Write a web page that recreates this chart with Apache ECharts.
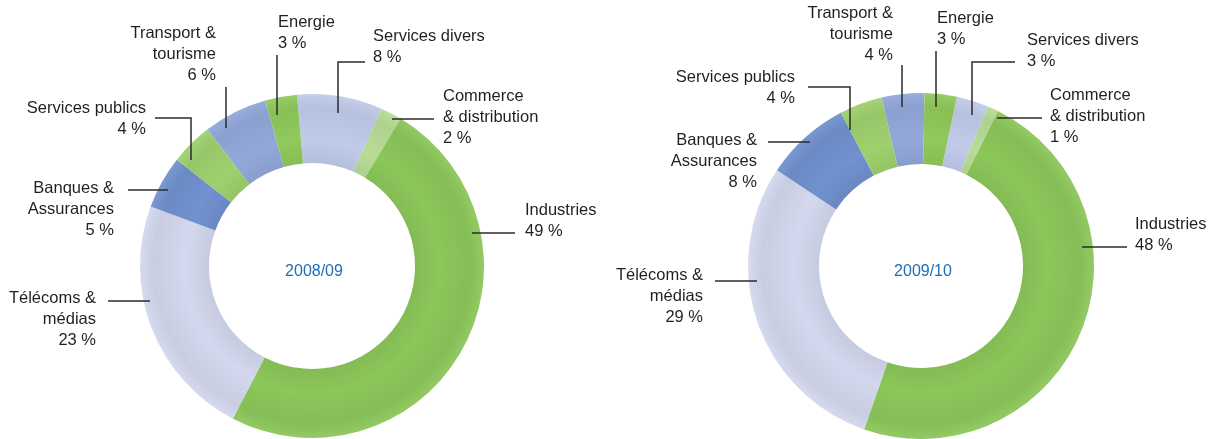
<!DOCTYPE html>
<html lang="fr">
<head>
<meta charset="utf-8">
<title>Répartition par secteur</title>
<script src="https://cdn.jsdelivr.net/npm/echarts@6/dist/echarts.min.js"></script>
<style>
  html, body { margin: 0; padding: 0; background: #fff; }
  #chart { width: 1209px; height: 439px; }
</style>
</head>
<body>
<div id="chart"></div>
<script>
// Sectors, listed clockwise from the start angle of each ring
const sectors = [
  'Services divers',
  'Commerce\n& distribution',
  'Industries',
  'Télécoms &\nmédias',
  'Banques &\nAssurances',
  'Services publics',
  'Transport &\ntourisme',
  'Energie'
];
const years = ['2008/09', '2009/10'];
const shares2008 = [8, 2, 49, 23, 5, 4, 6, 3];
const shares2009 = [3, 1, 48, 29, 8, 4, 4, 3];

// Fill colour of each sector
const sectorColors = ['#c0cbea', '#b8dc96', '#8cc75a', '#d3d8ee', '#7191cf', '#9fd06e', '#93a8da', '#90c95c'];

// Ring geometry (pixels)
const rings = [
  { cx: 312, cy: 266, r0: 103, r1: 172, start: 95 },
  { cx: 921, cy: 266, r0: 102, r1: 173, start: 78 }
];

// Label placement: anchor of the text block (first line centre) and leader line points
const labelPlacement = [
  {
    'Services divers':          { x: 373, y: 36,  align: 'left',  line: [[338, 113], [338, 62], [365, 62]] },
    'Commerce\n& distribution': { x: 443, y: 96,  align: 'left',  line: [[392, 119], [434, 119]] },
    'Industries':               { x: 525, y: 210, align: 'left',  line: [[472, 233], [515, 233]] },
    'Télécoms &\nmédias':       { x: 96,  y: 298, align: 'right', line: [[150, 301], [108, 301]] },
    'Banques &\nAssurances':    { x: 114, y: 188, align: 'right', line: [[168, 190], [128, 190]] },
    'Services publics':         { x: 146, y: 108, align: 'right', line: [[191, 160], [191, 118], [155, 118]] },
    'Transport &\ntourisme':    { x: 216, y: 33,  align: 'right', line: [[226, 128], [226, 87]] },
    'Energie':                  { x: 278, y: 22,  align: 'left',  line: [[277, 115], [277, 55]] }
  },
  {
    'Services divers':          { x: 1027, y: 40,  align: 'left',  line: [[972, 115], [972, 62], [1015, 62]] },
    'Commerce\n& distribution': { x: 1050, y: 95,  align: 'left',  line: [[997, 118], [1042, 118]] },
    'Industries':               { x: 1135, y: 224, align: 'left',  line: [[1082, 247], [1127, 247]] },
    'Télécoms &\nmédias':       { x: 703,  y: 275, align: 'right', line: [[757, 281], [715, 281]] },
    'Banques &\nAssurances':    { x: 757,  y: 140, align: 'right', line: [[810, 142], [768, 142]] },
    'Services publics':         { x: 795,  y: 77,  align: 'right', line: [[850, 130], [850, 87], [808, 87]] },
    'Transport &\ntourisme':    { x: 893,  y: 13,  align: 'right', line: [[902, 107], [902, 65]] },
    'Energie':                  { x: 937,  y: 18,  align: 'left',  line: [[936, 107], [936, 51]] }
  }
];

const LINE_H = 21;
const FONT = '"Liberation Sans", Arial, sans-serif';

function shade(hex, k) {
  const n = parseInt(hex.slice(1), 16);
  const r = (n >> 16) & 255, g = (n >> 8) & 255, b = n & 255;
  const f = c => Math.max(0, Math.min(255, Math.round(k < 0 ? c * (1 + k) : c + (255 - c) * k)));
  return 'rgb(' + f(r) + ',' + f(g) + ',' + f(b) + ')';
}

// Soft tubular shading across the ring width
function ringFill(color, ring) {
  const t = ring.r0 / ring.r1;
  return {
    type: 'radial', x: ring.cx, y: ring.cy, r: ring.r1, global: true,
    colorStops: [
      { offset: 0, color: shade(color, -0.06) },
      { offset: t, color: shade(color, -0.06) },
      { offset: t + (1 - t) * 0.35, color: color },
      { offset: t + (1 - t) * 0.8, color: shade(color, -0.05) },
      { offset: 1, color: shade(color, 0.06) }
    ]
  };
}

function buildSeries(values, idx) {
  const ring = rings[idx];
  return {
    type: 'pie',
    center: [ring.cx, ring.cy],
    radius: [ring.r0, ring.r1],
    startAngle: ring.start,
    clockwise: true,
    avoidLabelOverlap: false,
    silent: true,
    animation: false,
    z: 2,
    data: sectors.map((name, i) => ({
      name: name,
      value: values[i],
      itemStyle: { color: ringFill(sectorColors[i], ring) }
    })),
    label: {
      show: true,
      position: 'outside',
      formatter: p => p.name + '\n' + p.value + ' %',
      fontFamily: FONT,
      fontSize: 16.5,
      lineHeight: LINE_H,
      color: '#231f20'
    },
    labelLine: { show: false },
    labelLayout: function (params) {
      const pl = labelPlacement[idx][sectors[params.dataIndex]];
      return {
        x: pl.x,
        y: pl.y - LINE_H / 2,
        align: pl.align,
        verticalAlign: 'top'
      };
    }
  };
}

// Leader lines are drawn above the rings so they reach into the slices
const leaderLines = [];
labelPlacement.forEach(group => {
  sectors.forEach(name => {
    leaderLines.push({
      type: 'polyline',
      z: 100,
      silent: true,
      shape: { points: group[name].line },
      style: { stroke: '#2b2b2b', lineWidth: 1.5, fill: null }
    });
  });
});

const yearLabels = years.map((y, i) => ({
  type: 'text',
  z: 100,
  x: rings[i].cx + 2,
  y: rings[i].cy + 6,
  style: {
    text: y,
    fill: '#1f6db5',
    font: '16px ' + FONT,
    textAlign: 'center',
    textVerticalAlign: 'middle'
  }
}));

const chart = echarts.init(document.getElementById('chart'), null, { renderer: 'canvas' });
chart.setOption({
  backgroundColor: '#ffffff',
  animation: false,
  series: [buildSeries(shares2008, 0), buildSeries(shares2009, 1)],
  graphic: leaderLines.concat(yearLabels)
});
</script>
</body>
</html>
